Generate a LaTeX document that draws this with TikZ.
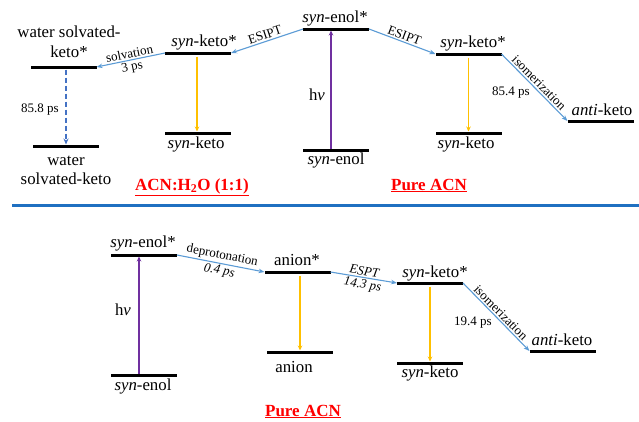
\documentclass[tikz,border=0pt]{standalone}
\usepackage{fontspec}
\setmainfont{Liberation Serif}
\usetikzlibrary{arrows.meta}
\definecolor{transblue}{HTML}{5B9BD5}
\definecolor{decayyellow}{HTML}{FFC000}
\definecolor{pumppurple}{HTML}{7030A0}
\definecolor{relaxblue}{HTML}{4472C4}
\definecolor{titlered}{HTML}{FF0000}
\definecolor{ruleblue}{HTML}{1F70C1}

\begin{document}
\begin{tikzpicture}[x=1pt,y=-1pt,
  level/.style={fill=black, minimum width=66pt, minimum height=3pt, inner sep=0pt, outer sep=0pt},
  state/.style={font=\fontsize{16.8}{20}\selectfont, inner sep=0pt, anchor=base},
  rate/.style={font=\fontsize{13}{15}\selectfont, inner sep=1.5pt},
  panel/.style={font=\fontsize{17}{20}\selectfont\bfseries, text=titlered, inner sep=0pt, anchor=base},
  trans/.style={draw=transblue, line width=1.1pt, -{Stealth[length=6pt,width=4.5pt]}},
  decay/.style={draw=decayyellow, line width=1.4pt, -{Stealth[length=5pt,width=4.5pt]}, shorten <=2pt},
  pump/.style={draw=pumppurple, line width=1.4pt, -{Stealth[length=5pt,width=4.5pt]}},
  relax/.style={draw=relaxblue, line width=2pt, dash pattern=on 5pt off 3pt, -{Stealth[length=6pt,width=5pt]}, shorten <=1pt}
]
\useasboundingbox (0,0) rectangle (639,421);

% ---------- ACN:H2O (1:1) and pure ACN, upper scheme ----------
\node[level] (wsks) at (63.5,67) {};
\node[level] (wsk)  at (66,146) {};
\node[level] (sk1s) at (198,53) {};
\node[level] (sk1)  at (198,133) {};
\node[level] (sEs)  at (336,29) {};
\node[level] (sE)   at (336,150) {};
\node[level] (sk2s) at (468.5,54) {};
\node[level] (sk2)  at (468.5,133) {};
\node[level] (ak)   at (600.5,121) {};

\node[state, align=center, anchor=south] (l-wsks) at (69,58) {water solvated-\\keto*};
\node[state, align=center, anchor=north, font=\fontsize{16.8}{19}\selectfont] (l-wsk) at (66,156) {water\\solvated-keto};
\node[state] (l-sk1s) at (204,46) {\textit{syn}-keto*};
\node[state] (l-sk1)  at (196,148) {\textit{syn}-keto};
\node[state] (l-sEs)  at (335,22) {\textit{syn}-enol*};
\node[state] (l-sE)   at (336,164) {\textit{syn}-enol};
\node[state] (l-sk2s) at (473,47) {\textit{syn}-keto*};
\node[state] (l-sk2)  at (466,148) {\textit{syn}-keto};
\node[state] (l-ak)   at (602,115) {\textit{anti}-keto};

\draw[relax] ([xshift=2.5pt]wsks.south) -- (wsk.north);
\node[rate] (r-wsk) at (40,110) {85.8 ps};
\draw[decay] ([xshift=-1pt]sk1s.south) -- ([xshift=-1pt]sk1.north);
\draw[pump] ([xshift=-5pt]sE.north) -- ([xshift=-5pt]sEs.south);
\node[state, anchor=center] (hv1) at (317,95) {h\textit{ν}};
\draw[decay] (sk2s.south) -- (sk2.north);

\draw[trans] (sk1s.west) -- (wsks.east)
  node[rate, midway, sloped, above] {solvation}
  node[rate, midway, sloped, below] {3 ps};
\draw[trans] (sEs.west) -- (sk1s.east)
  node[rate, midway, sloped, above] {ESIPT};
\draw[trans] (sEs.east) -- (sk2s.west)
  node[rate, midway, sloped, above] {ESIPT};
\draw[trans] (sk2s.east) -- (ak.west)
  node[rate, midway, sloped, above] {isomerization};
\node[rate] (r-iso1) at (511,93) {85.4 ps};

\node[panel] (t-mix) at (192,190) {\underline{ACN:H\textsubscript{2}O (1:1)}};
\node[panel] (t-acn1) at (429,190) {\underline{Pure ACN}};

% ---------- separator ----------
\coordinate (sepL) at (12,205);
\coordinate (sepR) at (639,205);
\draw[ruleblue, line width=3pt] (sepL) -- (sepR);

% ---------- pure ACN, lower scheme ----------
\node[level] (sEs2) at (144,255) {};
\node[level] (sE2)  at (144,375) {};
\node[level] (ans)  at (297.5,272) {};
\node[level] (an)   at (300,352) {};
\node[level] (sk3s) at (430,283) {};
\node[level] (sk3)  at (430,363) {};
\node[level] (ak2)  at (562.5,351) {};

\node[state] (l-sEs2) at (143,247) {\textit{syn}-enol*};
\node[state] (l-sE2)  at (143,390) {\textit{syn}-enol};
\node[state] (l-ans)  at (297,265) {anion*};
\node[state] (l-an)   at (294,372) {anion};
\node[state] (l-sk3s) at (435,277) {\textit{syn}-keto*};
\node[state] (l-sk3)  at (430,377) {\textit{syn}-keto};
\node[state] (l-ak2)  at (562,345) {\textit{anti}-keto};

\draw[pump] ([xshift=-5pt]sE2.north) -- ([xshift=-5pt]sEs2.south);
\node[state, anchor=center] (hv2) at (123,310) {h\textit{ν}};
\draw[decay] ([xshift=2.5pt]ans.south) -- (an.north);
\draw[decay] (sk3s.south) -- (sk3.north);

\draw[trans] (sEs2.east) -- (ans.west)
  node[rate, midway, sloped, above] {deprotonation}
  node[rate, midway, sloped, below] {\textit{0.4 ps}};
\draw[trans] (ans.east) -- (sk3s.west)
  node[rate, midway, sloped, above] {\textit{ESPT}}
  node[rate, midway, sloped, below] {\textit{14.3 ps}};
\draw[trans] (sk3s.east) -- (ak2.west)
  node[rate, midway, sloped, above] {isomerization};
\node[rate] (r-iso2) at (473,323) {19.4 ps};

\node[panel] (t-acn2) at (303,416) {\underline{Pure ACN}};
\end{tikzpicture}
\end{document}
